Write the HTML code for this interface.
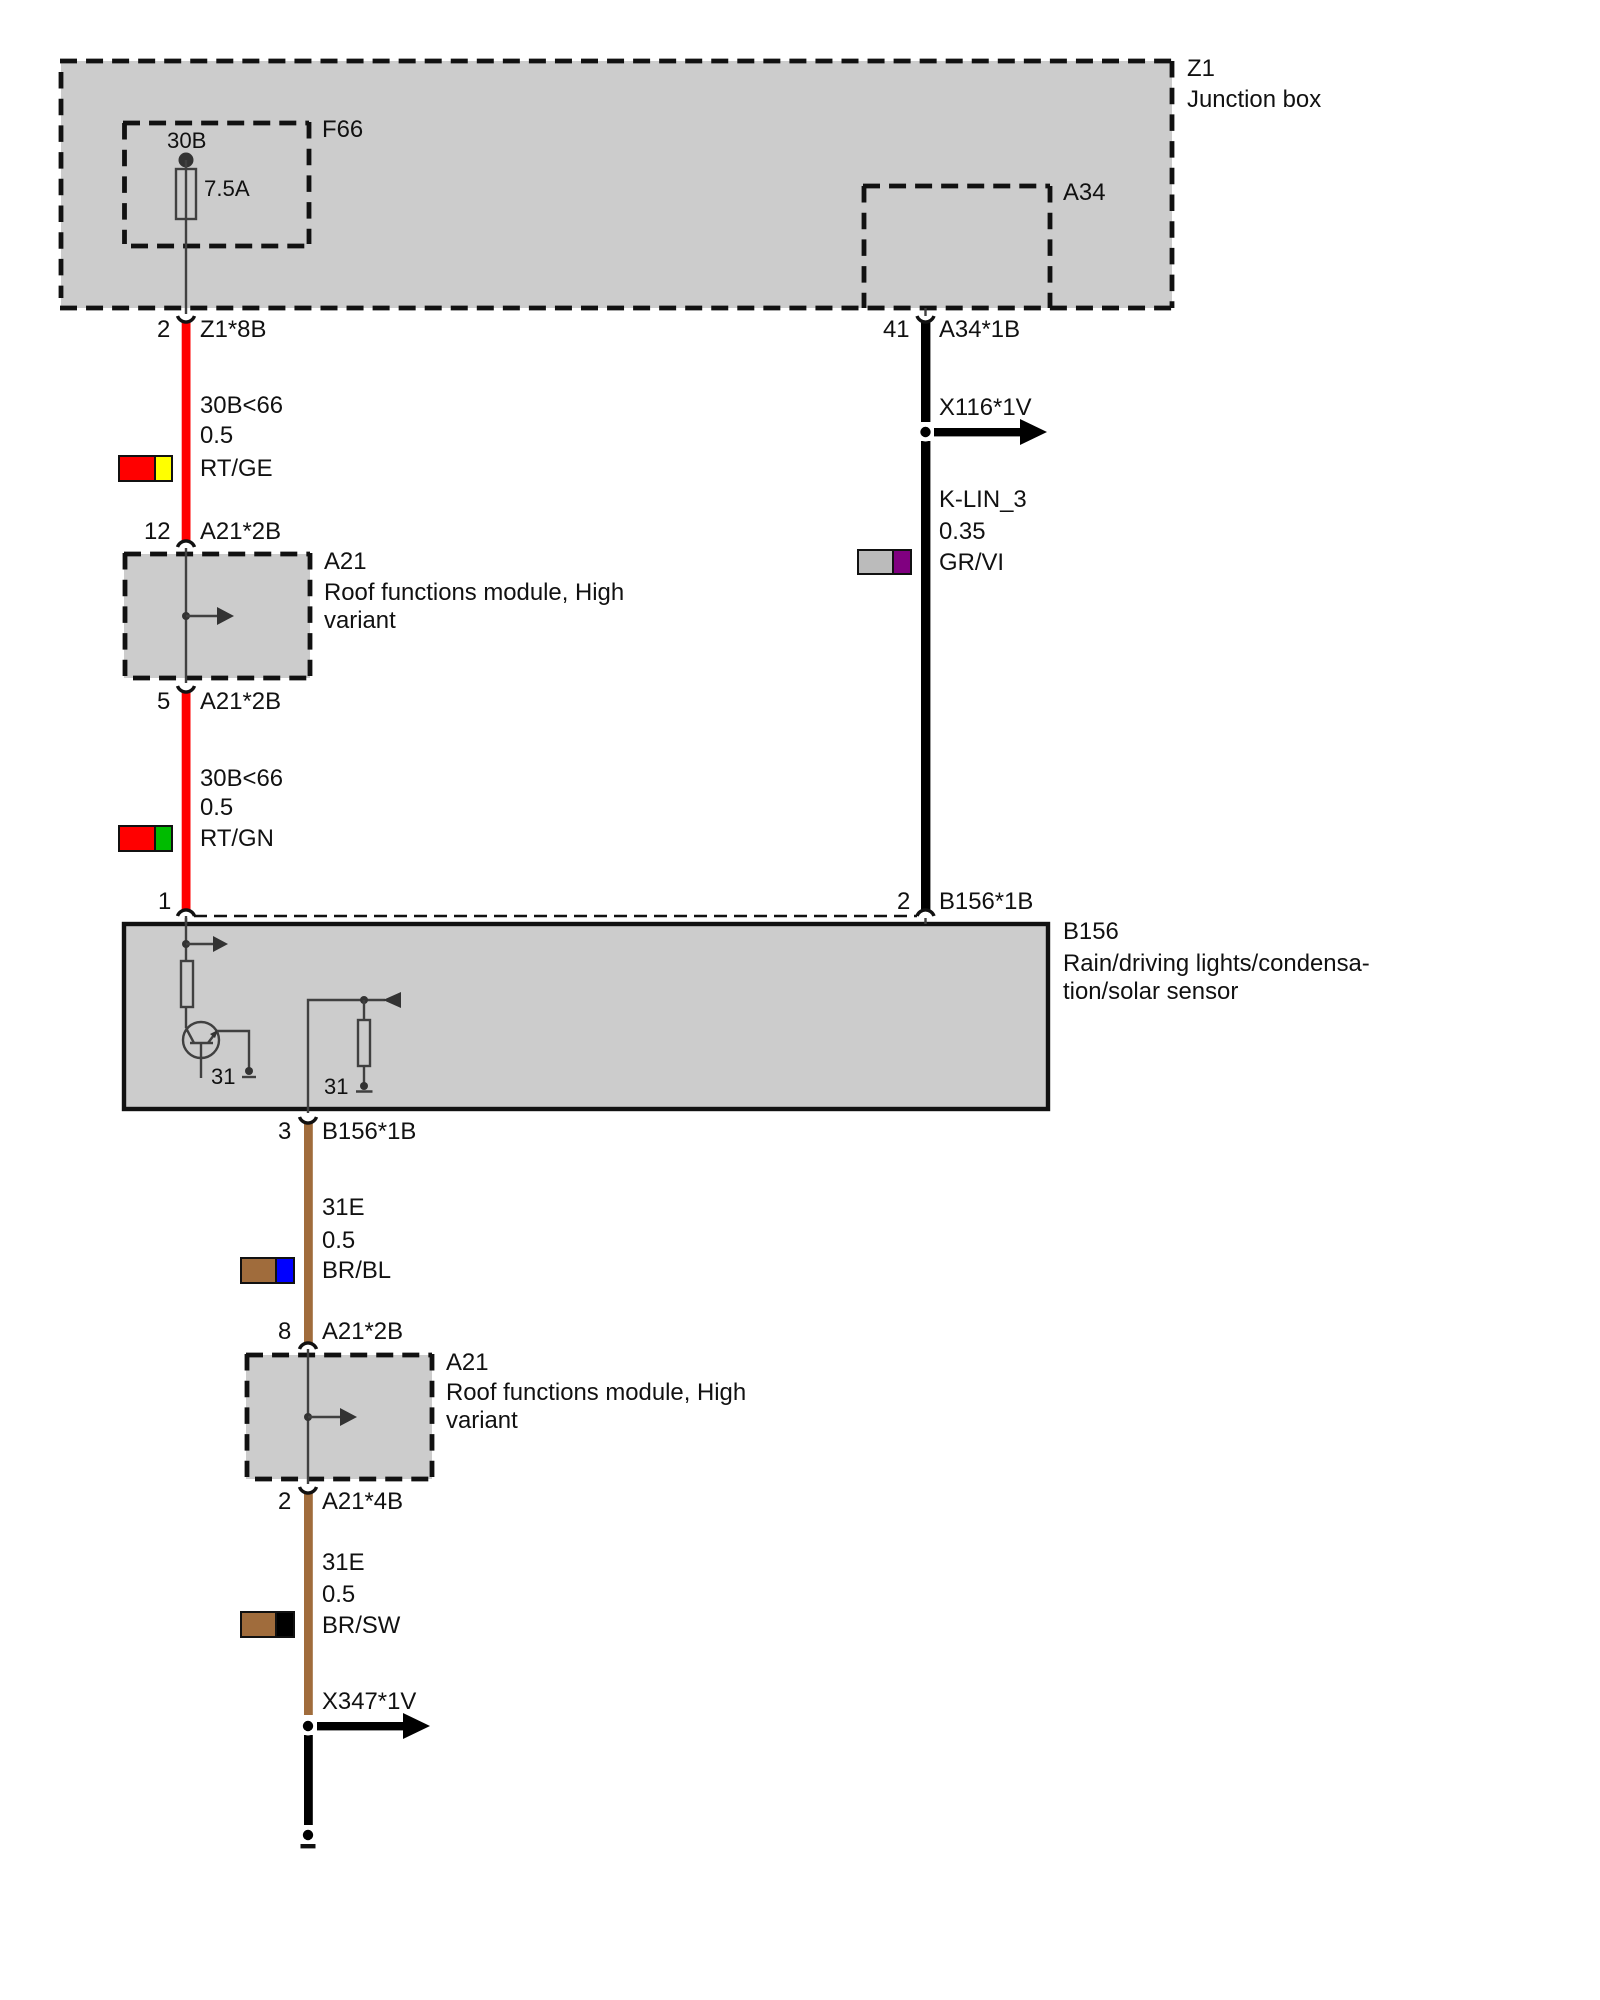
<!DOCTYPE html>
<html><head><meta charset="utf-8"><style>
html,body{margin:0;padding:0;background:#fff}
svg{display:block}
text{font-family:"Liberation Sans",sans-serif;font-size:23.9px;fill:#111}
.s{font-size:22.2px}
.t{font-size:22px}
.d{stroke:#111;stroke-width:4.8;stroke-dasharray:17 9.05;fill:none}
.v{stroke:#111;stroke-width:4.8;stroke-dasharray:16.5 10.2;fill:none}
.l{stroke:#404040;stroke-width:2.4;fill:none}
.c{stroke:#111;stroke-width:3.4;fill:none}
.o{stroke:#404040;stroke-width:2.4;fill:none}
.sw{stroke:#111;stroke-width:2}
</style></head><body>
<svg width="1600" height="2000" viewBox="0 0 1600 2000" xmlns="http://www.w3.org/2000/svg">
<rect width="1600" height="2000" fill="#fff"/>
<!-- fills -->
<rect x="61" y="61" width="1111" height="247" fill="#ccc"/>
<rect x="124" y="554" width="186" height="124" fill="#ccc"/>
<rect x="124" y="924" width="924" height="185" fill="#ccc" stroke="#111" stroke-width="4.4"/>
<rect x="246" y="1355" width="186" height="124" fill="#ccc"/>
<!-- Z1 -->
<line class="d" x1="60" y1="61" x2="1174" y2="61"/>
<line class="v" x1="61" y1="72" x2="61" y2="298"/>
<line class="v" x1="1172" y1="61" x2="1172" y2="308"/>
<line class="d" x1="60" y1="308" x2="1174" y2="308"/>
<!-- F66 -->
<line class="d" x1="123" y1="123" x2="309" y2="123"/>
<line class="v" x1="124.5" y1="123" x2="124.5" y2="244"/>
<line class="v" x1="309" y1="122" x2="309" y2="244"/>
<line class="d" x1="131" y1="246" x2="306" y2="246"/>
<!-- A34 -->
<line class="d" x1="863" y1="186" x2="1050" y2="186"/>
<line class="v" x1="864" y1="186" x2="864" y2="308"/>
<line class="v" x1="1050" y1="186" x2="1050" y2="308"/>
<!-- A21 upper -->
<line class="d" x1="124" y1="554" x2="310" y2="554"/>
<line class="v" x1="125" y1="553" x2="125" y2="676"/>
<line class="v" x1="310" y1="553" x2="310" y2="676"/>
<line class="d" x1="133" y1="678" x2="308" y2="678"/>
<!-- A21 lower -->
<line class="d" x1="246" y1="1355" x2="432" y2="1355"/>
<line class="v" x1="247" y1="1354" x2="247" y2="1477"/>
<line class="v" x1="432" y1="1354" x2="432" y2="1477"/>
<line class="d" x1="255" y1="1479" x2="430" y2="1479"/>
<!-- wires -->
<rect x="181.7" y="321" width="8.8" height="220" fill="#f00"/>
<rect x="181.7" y="691" width="8.8" height="220" fill="#f00"/>
<rect x="921" y="322" width="9.4" height="100" fill="#000"/>
<rect x="921" y="441" width="9.4" height="470" fill="#000"/>
<rect x="304" y="1123" width="8.8" height="220" fill="#a06c3c"/>
<rect x="304" y="1492" width="8.8" height="223" fill="#a06c3c"/>
<rect x="304" y="1735" width="8.8" height="90" fill="#000"/>
<!-- dashed link -->
<line x1="194" y1="916" x2="917" y2="916" stroke="#111" stroke-width="2.4" stroke-dasharray="13 7"/>
<!-- cups -->
<path class="c" d="M177.5 316A9 9 0 0 0 194.5 316"/>
<path class="c" d="M917 316A9 9 0 0 0 934 316"/>
<path class="c" d="M177.5 547A9 9 0 0 1 194.5 547"/>
<path class="c" d="M177.5 686A9 9 0 0 0 194.5 686"/>
<path class="c" d="M177.5 916A9 9 0 0 1 194.5 916"/>
<path class="c" d="M917 916A9 9 0 0 1 934 916"/>
<path class="c" d="M299.5 1117A9 9 0 0 0 316.5 1117"/>
<path class="c" d="M299.5 1349A9 9 0 0 1 316.5 1349"/>
<path class="c" d="M299.5 1487A9 9 0 0 0 316.5 1487"/>
<!-- F66 internals -->
<circle cx="186" cy="160" r="7.5" fill="#333"/>
<rect class="o" x="176" y="169" width="20" height="50"/>
<line class="l" x1="186" y1="160" x2="186" y2="314"/>
<!-- A34 stub -->
<line class="l" x1="925.5" y1="308" x2="925.5" y2="316"/>
<!-- A21 upper internals -->
<line class="l" x1="186" y1="548" x2="186" y2="683"/>
<circle cx="186" cy="616" r="4" fill="#333"/>
<line class="l" x1="186" y1="616" x2="218" y2="616"/>
<path d="M217 607L234 616L217 625Z" fill="#333"/>
<!-- B156 internals -->
<line class="l" x1="186" y1="918" x2="186" y2="961"/>
<circle cx="186" cy="944" r="4" fill="#333"/>
<line class="l" x1="186" y1="944" x2="214" y2="944"/>
<path d="M213 936L228 944L213 952Z" fill="#333"/>
<rect class="o" x="181" y="961" width="12" height="46"/>
<line class="l" x1="186" y1="1007" x2="186" y2="1028"/>
<circle class="o" cx="201" cy="1040" r="18"/>
<line class="l" x1="190" y1="1043" x2="213" y2="1043"/>
<line class="l" x1="201" y1="1043" x2="201" y2="1078"/>
<line class="l" x1="186" y1="1028" x2="194" y2="1043"/>
<line class="l" x1="208" y1="1043" x2="217" y2="1031"/>
<path d="M218 1030L210 1034L215 1038Z" fill="#333"/>
<path class="l" d="M217 1031H249V1071"/>
<circle cx="249" cy="1071" r="4" fill="#333"/>
<line class="l" x1="242" y1="1077" x2="256" y2="1077"/>
<path class="l" d="M308 1113V1000H385"/>
<circle cx="364" cy="1000" r="4" fill="#333"/>
<path d="M383 1000L401 992V1008Z" fill="#333"/>
<line class="l" x1="364" y1="1000" x2="364" y2="1086"/>
<rect class="o" x="358" y="1020" width="12" height="46" style="fill:#ccc"/>
<circle cx="364" cy="1086" r="4" fill="#333"/>
<line class="l" x1="356" y1="1091.5" x2="372.5" y2="1091.5"/>
<!-- B156 stub -->
<line class="l" x1="925.5" y1="918" x2="925.5" y2="924"/>
<line class="l" x1="186" y1="916" x2="186" y2="924"/>
<!-- A21 lower internals -->
<line class="l" x1="308" y1="1349" x2="308" y2="1484"/>
<circle cx="308" cy="1417" r="4" fill="#333"/>
<line class="l" x1="308" y1="1417" x2="341" y2="1417"/>
<path d="M340 1408L357 1417L340 1426Z" fill="#333"/>
<!-- junctions -->
<circle cx="925.5" cy="432" r="9.5" fill="#fff"/>
<circle cx="925.5" cy="432" r="5.2" fill="#000"/>
<rect x="934" y="428" width="87" height="8.4" fill="#000"/>
<path d="M1020 419L1047 432L1020 445Z" fill="#000"/>
<circle cx="308" cy="1726" r="9.5" fill="#fff"/>
<circle cx="308" cy="1726" r="5.2" fill="#000"/>
<rect x="317" y="1722" width="87" height="8.4" fill="#000"/>
<path d="M403 1713L430 1726L403 1739Z" fill="#000"/>
<circle cx="308" cy="1835" r="5.2" fill="#000"/>
<rect x="300.5" y="1844" width="15" height="4.4" fill="#111"/>
<!-- swatches -->
<rect class="sw" x="119" y="456" width="36" height="25" fill="#f00"/><rect class="sw" x="155" y="456" width="17" height="25" fill="#ff0"/>
<rect class="sw" x="119" y="826" width="36" height="25" fill="#f00"/><rect class="sw" x="155" y="826" width="17" height="25" fill="#0b0"/>
<rect class="sw" x="858" y="550" width="35" height="24" fill="#bbb"/><rect class="sw" x="893" y="550" width="18" height="24" fill="#800080"/>
<rect class="sw" x="241" y="1258" width="35" height="25" fill="#a06c3c"/><rect class="sw" x="276" y="1258" width="18" height="25" fill="#00f"/>
<rect class="sw" x="241" y="1612" width="35" height="25" fill="#a06c3c"/><rect class="sw" x="276" y="1612" width="18" height="25" fill="#000"/>
<!-- labels -->
<text x="1187" y="76">Z1</text>
<text x="1187" y="107">Junction box</text>
<text x="322" y="137">F66</text>
<text class="s" x="167" y="148">30B</text>
<text class="s" x="204" y="196">7.5A</text>
<text x="1063" y="200">A34</text>
<text x="157" y="337">2</text>
<text x="200" y="337">Z1*8B</text>
<text x="883" y="337">41</text>
<text x="939" y="337">A34*1B</text>
<text x="939" y="415">X116*1V</text>
<text x="200" y="413">30B&lt;66</text>
<text x="200" y="443">0.5</text>
<text x="200" y="476">RT/GE</text>
<text x="939" y="507">K-LIN_3</text>
<text x="939" y="539">0.35</text>
<text x="939" y="570">GR/VI</text>
<text x="144" y="539">12</text>
<text x="200" y="539">A21*2B</text>
<text x="324" y="569">A21</text>
<text x="324" y="600">Roof functions module, High</text>
<text x="324" y="628">variant</text>
<text x="157" y="709">5</text>
<text x="200" y="709">A21*2B</text>
<text x="200" y="786">30B&lt;66</text>
<text x="200" y="815">0.5</text>
<text x="200" y="846">RT/GN</text>
<text x="158" y="909">1</text>
<text x="897" y="909">2</text>
<text x="939" y="909">B156*1B</text>
<text x="1063" y="939">B156</text>
<text x="1063" y="971">Rain/driving lights/condensa-</text>
<text x="1063" y="999">tion/solar sensor</text>
<text class="t" x="211" y="1084">31</text>
<text class="t" x="324" y="1094">31</text>
<text x="278" y="1139">3</text>
<text x="322" y="1139">B156*1B</text>
<text x="322" y="1215">31E</text>
<text x="322" y="1248">0.5</text>
<text x="322" y="1278">BR/BL</text>
<text x="278" y="1339">8</text>
<text x="322" y="1339">A21*2B</text>
<text x="446" y="1370">A21</text>
<text x="446" y="1400">Roof functions module, High</text>
<text x="446" y="1428">variant</text>
<text x="278" y="1509">2</text>
<text x="322" y="1509">A21*4B</text>
<text x="322" y="1570">31E</text>
<text x="322" y="1602">0.5</text>
<text x="322" y="1633">BR/SW</text>
<text x="322" y="1709">X347*1V</text>
</svg>
</body></html>
